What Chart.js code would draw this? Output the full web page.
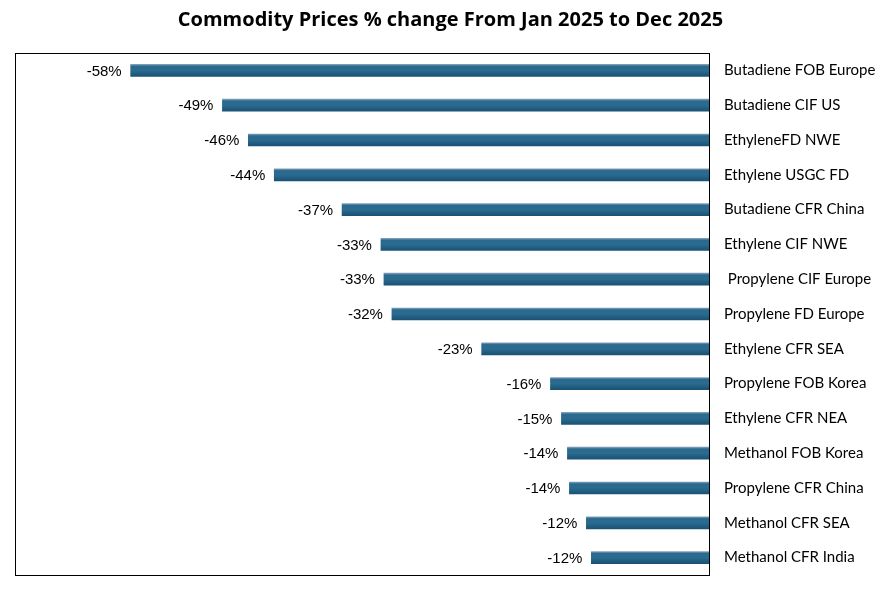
<!DOCTYPE html>
<html>
<head>
<meta charset="utf-8">
<script src="https://cdn.jsdelivr.net/npm/chart.js@4/dist/chart.umd.min.js"></script>
<style>
  html, body { margin: 0; padding: 0; background: #fff; overflow: hidden; }
  canvas { display: block; }
</style>
</head>
<body>
<canvas id="grafico" width="886" height="591"></canvas>
<script>
const categorias = [
  'Butadiene FOB Europe', 'Butadiene CIF US', 'EthyleneFD NWE', 'Ethylene USGC FD',
  'Butadiene CFR China', 'Ethylene CIF NWE', ' Propylene CIF Europe', 'Propylene FD Europe',
  'Ethylene CFR SEA', 'Propylene FOB Korea', 'Ethylene CFR NEA', 'Methanol FOB Korea',
  'Propylene CFR China', 'Methanol CFR SEA', 'Methanol CFR India'
];
const variacao = [-58.0, -48.8, -46.2, -43.6, -36.8, -32.9, -32.6, -31.8, -22.8, -15.9, -14.8, -14.2, -14.0, -12.3, -11.8];
const escalaMin = -69.6;
const escalaMax = 0;

const ctx = document.getElementById('grafico').getContext('2d');

function corBarra(context) {
  const chart = context.chart;
  const y = chart.scales.y;
  if (!y || context.dataIndex === undefined) return '#245f82';
  const c = y.getPixelForValue(context.dataIndex);
  if (!isFinite(c)) return '#245f82';
  const g = chart.ctx.createLinearGradient(0, c - 6, 0, c + 6);
  g.addColorStop(0, '#7f9fb8');
  g.addColorStop(0.15, '#2b6a8e');
  g.addColorStop(0.5, '#2a6b90');
  g.addColorStop(1, '#1a5274');
  return g;
}

// moldura em volta da área do gráfico
const moldura = {
  id: 'moldura',
  afterDraw(chart) {
    const a = chart.chartArea;
    const c = chart.ctx;
    c.save();
    c.strokeStyle = '#000';
    c.lineWidth = 1;
    c.strokeRect(Math.round(a.left) + 0.5, Math.round(a.top) + 0.5, Math.round(a.right - a.left), Math.round(a.bottom - a.top));
    c.restore();
  }
};

// rótulos de valor à esquerda de cada barra
const rotulos = {
  id: 'rotulos',
  afterDatasetsDraw(chart) {
    const c = chart.ctx;
    const meta = chart.getDatasetMeta(0);
    c.save();
    c.font = '15px "Liberation Sans", Arial, sans-serif';
    c.fillStyle = '#000';
    c.textAlign = 'right';
    c.textBaseline = 'middle';
    meta.data.forEach((bar, i) => {
      c.fillText(Math.round(variacao[i]) + '%', bar.x - 9, bar.y + 1);
    });
    c.restore();
  }
};

new Chart(ctx, {
  type: 'bar',
  data: {
    labels: categorias,
    datasets: [{
      data: variacao,
      backgroundColor: corBarra,
      borderWidth: 0,
      barThickness: 12
    }]
  },
  options: {
    indexAxis: 'y',
    responsive: false,
    animation: false,
    layout: { padding: { left: 15, right: 0, top: 0, bottom: 16 } },
    plugins: {
      legend: { display: false },
      tooltip: { enabled: false },
      title: {
        display: true,
        text: 'Commodity Prices % change From Jan 2025 to Dec 2025',
        color: '#000',
        font: { family: 'Open Sans', size: 20, weight: 'bold' },
        padding: { top: 8, bottom: 21 }
      }
    },
    scales: {
      x: {
        display: false,
        min: escalaMin,
        max: escalaMax
      },
      y: {
        position: 'right',
        grid: { display: false, drawTicks: false },
        border: { display: false },
        ticks: {
          color: '#000',
          padding: 15,
          font: { family: 'Lato', size: 15 }
        },
        afterFit(scale) {
          scale.width = 177;
          scale.paddingTop = 0;
          scale.paddingBottom = 0;
        }
      }
    }
  },
  plugins: [moldura, rotulos]
});
</script>
</body>
</html>
